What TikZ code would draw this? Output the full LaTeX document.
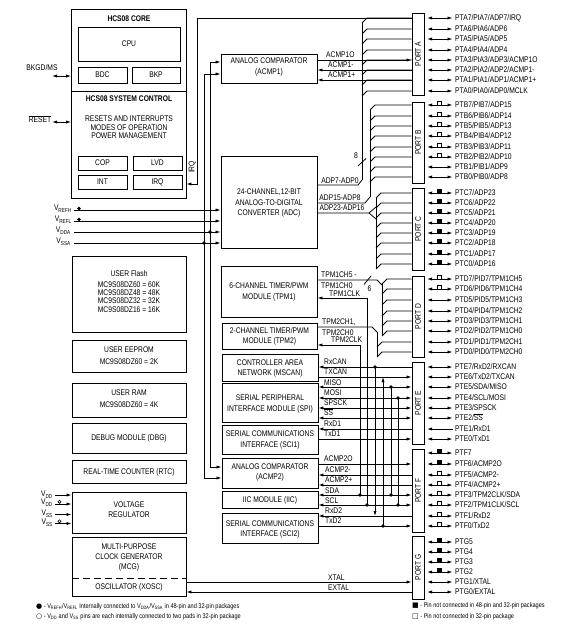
\documentclass[tikz,border=0pt]{standalone}
\usepackage{fontspec}
\setmainfont{Liberation Sans}[FakeStretch=0.82]
\newfontfamily\symf{DejaVu Sans}
\usetikzlibrary{arrows.meta,fit}
\newcommand\fs{\fontsize{8.2}{9}\selectfont}
\newcommand\fnt{\fontsize{6.8}{8}\selectfont}
\newcommand\pinrow[5]{%
  \node[lbl, anchor=west] (#1) at (455,#2) {#3};
  \coordinate (#1a) at (427,#2);
  \coordinate (#1b) at (452.5,#2);
  \draw[#5] (#1a) -- (#1b);
  \ifcase#4\or\draw[line width=0.6pt, fill=white] (437.5,#2-4) rectangle (441.5,#2);\or\fill (437,#2-4.5) rectangle (442,#2);\fi}
\begin{document}
\begin{tikzpicture}[x=1pt,y=-1pt,
  box/.style={draw, line width=0.9pt, inner sep=0pt},
  lbl/.style={font=\fs, inner sep=0pt, text height=5.9pt, text depth=0pt},
  sig/.style={line width=0.8pt},
  sigR/.style={sig,-{Latex[length=5pt,width=3.2pt]}},
  sigL/.style={sig,{Latex[length=5pt,width=3.2pt]}-},
  sigB/.style={sig,{Latex[length=5pt,width=3.2pt]}-{Latex[length=5pt,width=3.2pt]}},
  jdot/.style={circle, fill, inner sep=0pt, minimum size=3.6pt},
]
\fill[white] (0,0) rectangle (572,626);
\useasboundingbox (0,0) rectangle (572,626);

% ---------------- left column ----------------
\node[box, fit={(71.5,9) (186,91)}] (core) {};
\node[box, fit={(71.5,91) (186,198)}] (sysctl) {};
\node[lbl] (tcore) at (129,19) {\bfseries HCS08 CORE};
\node[box, fit={(78,27) (180,61)}] (cpu) {};
\node[lbl] (tcpu) at (cpu) {CPU};
\node[box, fit={(78,67) (127,83)}] (bdc) {};
\node[lbl] (tbdc) at (bdc) {BDC};
\node[box, fit={(132,67) (180,83)}] (bkp) {};
\node[lbl] (tbkp) at (bkp) {BKP};
\node[lbl] (tsys) at (129,99) {\bfseries HCS08 SYSTEM CONTROL};
\node[lbl] (tsys1) at (129,119) {RESETS AND INTERRUPTS};
\node[lbl] (tsys2) at (129,127.5) {MODES OF OPERATION};
\node[lbl] (tsys3) at (129,136) {POWER MANAGEMENT};
\node[box, fit={(78,156) (127,170)}] (cop) {};
\node[lbl] (tcop) at (cop) {COP};
\node[box, fit={(133,156) (182,170)}] (lvd) {};
\node[lbl] (tlvd) at (lvd) {LVD};
\node[box, fit={(78,175) (127,189)}] (int) {};
\node[lbl] (tint) at (int) {INT};
\node[box, fit={(133,175) (182,189)}] (irqb) {};
\node[lbl] (tirqb) at (irqb) {IRQ};

\node[box, fit={(72,256) (186,332)}] (flash) {};
\node[lbl] (tfl0) at (129,274) {USER Flash};
\node[lbl] (tfl1) at (129,284.3) {MC9S08DZ60 = 60K};
\node[lbl] (tfl2) at (129,292.7) {MC9S08DZ48 = 48K};
\node[lbl] (tfl3) at (129,300.9) {MC9S08DZ32 = 32K};
\node[lbl] (tfl4) at (129,309.3) {MC9S08DZ16 = 16K};
\node[box, fit={(72,340) (186,372)}] (eeprom) {};
\node[lbl] (tee0) at (129,350) {USER EEPROM};
\node[lbl] (tee1) at (129,362) {MC9S08DZ60 = 2K};
\node[box, fit={(72,383) (186,417)}] (ram) {};
\node[lbl] (tram0) at (129,393) {USER RAM};
\node[lbl] (tram1) at (129,405) {MC9S08DZ60 = 4K};
\node[box, fit={(72,423) (186,453)}] (dbg) {};
\node[lbl] (tdbg) at (dbg) {DEBUG MODULE (DBG)};
\node[box, fit={(72,460) (186,483)}] (rtc) {};
\node[lbl] (trtc) at (rtc) {REAL-TIME COUNTER (RTC)};
\node[box, fit={(72,492) (186,533)}] (vreg) {};
\node[lbl] (tvr0) at (129,505) {VOLTAGE};
\node[lbl] (tvr1) at (129,515) {REGULATOR};
\node[box, fit={(72,537) (186,596)}] (mcg) {};
\node[lbl] (tmcg0) at (129,547) {MULTI-PURPOSE};
\node[lbl] (tmcg1) at (129,557) {CLOCK GENERATOR};
\node[lbl] (tmcg2) at (129,567) {(MCG)};
\draw[line width=0.9pt, dash pattern=on 7pt off 4pt] (mcg.west |- 0,578) -- (mcg.east |- 0,578);
\node[lbl] (txosc) at (129,587) {OSCILLATOR (XOSC)};

% external pins on the left
\node[lbl] (lbkgd) at (42,68) {BKGD/MS};
\draw[sigB] (52,76) -- (core.west |- 0,76);
\node[lbl] (lreset) at (40,120) {$\overline{\mbox{RESET}}$};
\draw[sigB] (52,122) -- (sysctl.west |- 0,122);

\node[lbl, anchor=east] (lvrefh) at (72,208) {V\textsubscript{REFH}};
\node[lbl, anchor=east] (lvrefl) at (72,219) {V\textsubscript{REFL}};
\node[lbl, anchor=east] (lvdda) at (71,230) {V\textsubscript{DDA}};
\node[lbl, anchor=east] (lvssa) at (71,241) {V\textsubscript{SSA}};

\node[lbl, anchor=east] (lvdd1) at (53,494) {V\textsubscript{DD}};
\node[lbl, anchor=east] (lvdd2) at (53,502) {V\textsubscript{DD}};
\node[lbl, anchor=east] (lvss1) at (53,513) {V\textsubscript{SS}};
\node[lbl, anchor=east] (lvss2) at (53,522) {V\textsubscript{SS}};
\draw[sigR] (55,495) -- (vreg.west |- 0,495);
\draw[sigR] (55,504) -- (vreg.west |- 0,504);
\draw[sigR] (55,514.5) -- (vreg.west |- 0,514.5);
\draw[sigR] (55,523.5) -- (vreg.west |- 0,523.5);
\draw[line width=0.6pt] (59.5,501.8) circle (1.6pt);
\draw[line width=0.6pt] (59.5,521.3) circle (1.6pt);

% ---------------- modules ----------------
\node[box, fit={(221,54) (317,83)}] (acmp1) {};
\node[lbl] (tac1a) at (269,61) {ANALOG COMPARATOR};
\node[lbl] (tac1b) at (269,72) {(ACMP1)};
\node[box, fit={(221,156) (317,248)}] (adc) {};
\node[lbl] (tadc1) at (269,192) {24-CHANNEL,12-BIT};
\node[lbl] (tadc2) at (269,202.5) {ANALOG-TO-DIGITAL};
\node[lbl] (tadc3) at (269,212.5) {CONVERTER (ADC)};
\node[box, fit={(221,266) (317,317)}] (tpm1) {};
\node[lbl] (ttpm1a) at (269,286) {6-CHANNEL TIMER/PWM};
\node[lbl] (ttpm1b) at (269,296.5) {MODULE (TPM1)};
\node[box, fit={(222,323) (317,349)}] (tpm2) {};
\node[lbl] (ttpm2a) at (269.5,330.5) {2-CHANNEL TIMER/PWM};
\node[lbl] (ttpm2b) at (269.5,341) {MODULE (TPM2)};
\node[box, fit={(222,354) (318,381)}] (can) {};
\node[lbl] (tcana) at (270,363) {CONTROLLER AREA};
\node[lbl] (tcanb) at (270,373) {NETWORK (MSCAN)};
\node[box, fit={(222,383) (318,422)}] (spi) {};
\node[lbl] (tspia) at (270,398) {SERIAL PERIPHERAL};
\node[lbl] (tspib) at (270,408.5) {INTERFACE MODULE (SPI)};
\node[box, fit={(222,425) (318,454)}] (sci1) {};
\node[lbl] (tsci1a) at (270,434) {SERIAL COMMUNICATIONS};
\node[lbl] (tsci1b) at (270,444.5) {INTERFACE (SCI1)};
\node[box, fit={(222,458) (318,488)}] (acmp2) {};
\node[lbl] (tac2a) at (270,467) {ANALOG COMPARATOR};
\node[lbl] (tac2b) at (270,477) {(ACMP2)};
\node[box, fit={(222,491) (318,508)}] (iic) {};
\node[lbl] (tiic) at (iic) {IIC MODULE (IIC)};
\node[box, fit={(222,513) (318,543)}] (sci2) {};
\node[lbl] (tsci2a) at (270,524) {SERIAL COMMUNICATIONS};
\node[lbl] (tsci2b) at (270,534) {INTERFACE (SCI2)};

% ---------------- ports ----------------
\node[box, fit={(412,13) (424,95)}] (portA) {};
\node[box, fit={(412,102) (424,183)}] (portB) {};
\node[box, fit={(412,188) (424,270)}] (portC) {};
\node[box, fit={(412,276) (424,357)}] (portD) {};
\node[box, fit={(412,362) (424,444)}] (portE) {};
\node[box, fit={(412,449) (424,532)}] (portF) {};
\node[box, fit={(412,536) (424,599)}] (portG) {};
\node[lbl, rotate=90] (tpA) at (portA) {PORT A};
\node[lbl, rotate=90] (tpB) at (portB) {PORT B};
\node[lbl, rotate=90] (tpC) at (portC) {PORT C};
\node[lbl, rotate=90] (tpD) at (portD) {PORT D};
\node[lbl, rotate=90] (tpE) at (portE) {PORT E};
\node[lbl, rotate=90] (tpF) at (portF) {PORT F};
\node[lbl, rotate=90] (tpG) at (portG) {PORT G};

% pins
\pinrow{pA7}{18}{PTA7/PIA7/ADP7/IRQ}{0}{sigB}
\pinrow{pA6}{29}{PTA6/PIA6/ADP6}{0}{sigB}
\pinrow{pA5}{39}{PTA5/PIA5/ADP5}{0}{sigB}
\pinrow{pA4}{50}{PTA4/PIA4/ADP4}{0}{sigB}
\pinrow{pA3}{60}{PTA3/PIA3/ADP3/ACMP1O}{0}{sigB}
\pinrow{pA2}{70}{PTA2/PIA2/ADP2/ACMP1-}{0}{sigB}
\pinrow{pA1}{80}{PTA1/PIA1/ADP1/ACMP1+}{0}{sigB}
\pinrow{pA0}{91}{PTA0/PIA0/ADP0/MCLK}{0}{sigB}
\pinrow{pB7}{105}{PTB7/PIB7/ADP15}{1}{sigB}
\pinrow{pB6}{116}{PTB6/PIB6/ADP14}{1}{sigB}
\pinrow{pB5}{126}{PTB5/PIB5/ADP13}{1}{sigB}
\pinrow{pB4}{136}{PTB4/PIB4/ADP12}{1}{sigB}
\pinrow{pB3}{147}{PTB3/PIB3/ADP11}{1}{sigB}
\pinrow{pB2}{157}{PTB2/PIB2/ADP10}{1}{sigB}
\pinrow{pB1}{167}{PTB1/PIB1/ADP9}{0}{sigB}
\pinrow{pB0}{177}{PTB0/PIB0/ADP8}{0}{sigB}
\pinrow{pC7}{193}{PTC7/ADP23}{2}{sigB}
\pinrow{pC6}{203}{PTC6/ADP22}{2}{sigB}
\pinrow{pC5}{213}{PTC5/ADP21}{2}{sigB}
\pinrow{pC4}{223}{PTC4/ADP20}{2}{sigB}
\pinrow{pC3}{233}{PTC3/ADP19}{2}{sigB}
\pinrow{pC2}{243}{PTC2/ADP18}{2}{sigB}
\pinrow{pC1}{254}{PTC1/ADP17}{2}{sigB}
\pinrow{pC0}{264}{PTC0/ADP16}{2}{sigB}
\pinrow{pD7}{279}{PTD7/PID7/TPM1CH5}{1}{sigB}
\pinrow{pD6}{289}{PTD6/PID6/TPM1CH4}{1}{sigB}
\pinrow{pD5}{300}{PTD5/PID5/TPM1CH3}{0}{sigB}
\pinrow{pD4}{311}{PTD4/PID4/TPM1CH2}{0}{sigB}
\pinrow{pD3}{321}{PTD3/PID3/TPM1CH1}{0}{sigB}
\pinrow{pD2}{331}{PTD2/PID2/TPM1CH0}{0}{sigB}
\pinrow{pD1}{342}{PTD1/PID1/TPM2CH1}{0}{sigB}
\pinrow{pD0}{352}{PTD0/PID0/TPM2CH0}{0}{sigB}
\pinrow{pE7}{367}{PTE7/RxD2/RXCAN}{0}{sigB}
\pinrow{pE6}{377}{PTE6/TxD2/TXCAN}{0}{sigB}
\pinrow{pE5}{387}{PTE5/SDA/MISO}{0}{sigB}
\pinrow{pE4}{398}{PTE4/SCL/MOSI}{0}{sigB}
\pinrow{pE3}{408}{PTE3/SPSCK}{0}{sigB}
\pinrow{pE2}{418}{PTE2/$\overline{\mbox{SS}}$}{0}{sigB}
\pinrow{pE1}{429}{PTE1/RxD1}{0}{sigL}
\pinrow{pE0}{439}{PTE0/TxD1}{0}{sigB}
\pinrow{pF7}{453}{PTF7}{2}{sigB}
\pinrow{pF6}{464}{PTF6/ACMP2O}{2}{sigB}
\pinrow{pF5}{475}{PTF5/ACMP2-}{1}{sigB}
\pinrow{pF4}{485}{PTF4/ACMP2+}{1}{sigB}
\pinrow{pF3}{495}{PTF3/TPM2CLK/SDA}{1}{sigB}
\pinrow{pF2}{505}{PTF2/TPM1CLK/SCL}{1}{sigB}
\pinrow{pF1}{516}{PTF1/RxD2}{1}{sigB}
\pinrow{pF0}{526}{PTF0/TxD2}{1}{sigB}
\pinrow{pG5}{542}{PTG5}{2}{sigB}
\pinrow{pG4}{552}{PTG4}{2}{sigB}
\pinrow{pG3}{562}{PTG3}{2}{sigB}
\pinrow{pG2}{572}{PTG2}{2}{sigB}
\pinrow{pG1}{582}{PTG1/XTAL}{0}{sigB}
\pinrow{pG0}{592}{PTG0/EXTAL}{0}{sigB}

% ---------------- IRQ and clock lines ----------------
\coordinate (irqT) at (197,18);
\coordinate (irqB) at (197,184);
\draw[sig] (irqT) -- (portA.west |- irqT);
\draw[sigR] (irqT) -- (irqB) -- (sysctl.east |- irqB);
\node[lbl, rotate=90] (tirq) at (191.5,167) {IRQ};

\coordinate (v210t) at (210,62);
\coordinate (v210b) at (210,467);
\draw[sigB] (acmp1.west |- v210t) -- (v210t) -- (v210b) -- (acmp2.west |- v210b);
\coordinate (v204t) at (204,74);
\coordinate (v204b) at (204,478);
\draw[sigB] (acmp1.west |- v204t) -- (v204t) -- (v204b) -- (acmp2.west |- v204b);

% analog references
\draw[sigR] (74,210) -- (adc.west |- 0,210);
\draw[sigR] (74,221) -- (adc.west |- 0,221);
\draw[sigR] (74,232) -- (adc.west |- 0,232);
\draw[sigR] (74,243) -- (adc.west |- 0,243);
\node[jdot] (dvrefh) at (79,208.5) {};
\node[jdot] (dvrefl) at (79,219.5) {};
\node[jdot] (dvdda) at (210,232) {};
\node[jdot] (dvssa) at (204,243) {};

% ACMP1 signals
\draw[sigR] (acmp1.east |- 0,60) -- (portA.west |- 0,60);
\draw[sigL] (acmp1.east |- 0,70) -- (portA.west |- 0,70);
\draw[sigL] (acmp1.east |- 0,80) -- (portA.west |- 0,80);
\node[lbl, anchor=west] (lac1o) at (326,54.5) {ACMP1O};
\node[lbl, anchor=west] (lac1m) at (328,65) {ACMP1-};
\node[lbl, anchor=west] (lac1p) at (328,75) {ACMP1+};

% port A bus
\draw[sig] (362,23) -- (362,180);
\foreach \yy in {18,29,39,50,60,70,80,91}
  \draw[sig] (362,\yy+5) -- (367,\yy) -- (portA.west |- 0,\yy);
\draw[sig] (358,166) -- (366,158.5);
\node[lbl] (l8) at (356,156) {8};
\draw[sig] (adc.east |- 0,185) -- (358,185) -- (362,180);
\node[lbl] (ladp7) at (340,180.5) {ADP7-ADP0};

% port B bus
\draw[sig] (370,110) -- (370,197);
\foreach \yy in {105,116,126,136,147,157,167,177}
  \draw[sig] (370,\yy+5) -- (375,\yy) -- (portB.west |- 0,\yy);
\draw[sig] (adc.east |- 0,203) -- (365,203) -- (370,197);
\node[lbl] (ladp15) at (340,197.5) {ADP15-ADP8};

% port C bus
\draw[sig] (376,198) -- (376,269);
\foreach \yy in {193,203,213,223,233,243,254,264}
  \draw[sig] (376,\yy+5) -- (381,\yy) -- (portC.west |- 0,\yy);
\draw[sig] (adc.east |- 0,213) -- (369,213) -- (376,207);
\draw[sig] (369,213) -- (376,219);
\node[lbl] (ladp23) at (342,208) {ADP23-ADP16};

% port D bus (TPM1)
\draw[sig] (382,284) -- (382,336);
\foreach \yy in {279,289,300,311,321,331}
  \draw[sig] (382,\yy+5) -- (387,\yy) -- (portD.west |- 0,\yy);
\draw[sig] (tpm1.east |- 0,280) -- (377,280) -- (382,285);
\draw[sig] (364,284.5) -- (371,276);
\node[lbl] (l6) at (369.5,289) {6};
\node[lbl, anchor=west] (ltpm1a) at (321,275) {TPM1CH5 -};
\node[lbl, anchor=west] (ltpm1b) at (321,286) {TPM1CH0};
% TPM2 bus
\draw[sig] (377,332) -- (377,357);
\foreach \yy in {342,352}
  \draw[sig] (377,\yy+5) -- (382,\yy) -- (portD.west |- 0,\yy);
\draw[sig] (tpm2.east |- 0,327) -- (372,327) -- (377,332);
\node[lbl, anchor=west] (ltpm2a) at (322,322) {TPM2CH1,};
\node[lbl, anchor=west] (ltpm2b) at (322,333) {TPM2CH0};

% clocks to TPMs
\draw[sigR] (360,495) -- (360,345) -- (tpm2.east |- 0,345);
\node[lbl, anchor=west] (ltpm2clk) at (331,340) {TPM2CLK};
\draw[sigR] (367,505) -- (367,298) -- (tpm1.east |- 0,298);
\node[lbl, anchor=west] (ltpm1clk) at (329,293.5) {TPM1CLK};

% port E / F signals
\draw[sigL] (can.east |- 0,367) -- (portE.west |- 0,367);
\draw[sigR] (can.east |- 0,377) -- (portE.west |- 0,377);
\draw[sigB] (spi.east |- 0,387) -- (portE.west |- 0,387);
\draw[sigB] (spi.east |- 0,398) -- (portE.west |- 0,398);
\draw[sigB] (spi.east |- 0,408) -- (portE.west |- 0,408);
\draw[sigB] (spi.east |- 0,418) -- (portE.west |- 0,418);
\draw[sigL] (sci1.east |- 0,429) -- (portE.west |- 0,429);
\draw[sigR] (sci1.east |- 0,439) -- (portE.west |- 0,439);
\draw[sigR] (acmp2.east |- 0,464) -- (portF.west |- 0,464);
\draw[sigL] (acmp2.east |- 0,475) -- (portF.west |- 0,475);
\draw[sigL] (acmp2.east |- 0,485) -- (portF.west |- 0,485);
\draw[sigB] (iic.east |- 0,495) -- (portF.west |- 0,495);
\draw[sigB] (iic.east |- 0,505) -- (portF.west |- 0,505);
\draw[sigL] (sci2.east |- 0,516) -- (portF.west |- 0,516);
\draw[sigR] (sci2.east |- 0,526) -- (portF.west |- 0,526);
\node[lbl, anchor=west] (lrxcan) at (324,362) {RxCAN};
\node[lbl, anchor=west] (ltxcan) at (324,372) {TXCAN};
\node[lbl, anchor=west] (lmiso) at (324,382.5) {MISO};
\node[lbl, anchor=west] (lmosi) at (324,393) {MOSI};
\node[lbl, anchor=west] (lspsck) at (324,403) {SPSCK};
\node[lbl, anchor=west] (lss) at (324,413) {$\overline{\mbox{SS}}$};
\node[lbl, anchor=west] (lrxd1) at (324,424) {RxD1};
\node[lbl, anchor=west] (ltxd1) at (324,434) {TxD1};
\node[lbl, anchor=west] (lac2o) at (324,458.5) {ACMP2O};
\node[lbl, anchor=west] (lac2m) at (325,469.5) {ACMP2-};
\node[lbl, anchor=west] (lac2p) at (325,480) {ACMP2+};
\node[lbl, anchor=west] (lsda) at (325,490.5) {SDA};
\node[lbl, anchor=west] (lscl) at (325,500.5) {SCL};
\node[lbl, anchor=west] (lrxd2) at (325,511) {RxD2};
\node[lbl, anchor=west] (ltxd2) at (325,521) {TxD2};

% cross connections
\draw[sigR] (375,367) -- (375,516);
\draw[sigR] (383,526) -- (383,377);
\draw[sig] (391,387) -- (391,495);
\draw[sig] (398,398) -- (398,505);
\node[jdot] (j1) at (360,495) {};
\node[jdot] (j2) at (367,505) {};
\node[jdot] (j3) at (375,367) {};
\node[jdot] (j4) at (383,526) {};
\node[jdot] (j5) at (391,387) {};
\node[jdot] (j6) at (391,495) {};
\node[jdot] (j7) at (398,398) {};
\node[jdot] (j8) at (398,505) {};

% oscillator
\draw[sigR] (mcg.east |- 0,582) -- (portG.west |- 0,582);
\draw[sigL] (mcg.east |- 0,592) -- (portG.west |- 0,592);
\node[lbl, anchor=west] (lxtal) at (328,577.5) {XTAL};
\node[lbl, anchor=west] (lextal) at (328,587.5) {EXTAL};

% footnotes
\node[font=\fnt, inner sep=0pt, anchor=west] (fn1) at (36,607) {{\symf\scriptsize ●} - V\textsubscript{REFH}/V\textsubscript{REFL} Internally connected to V\textsubscript{DDA}/V\textsubscript{SSA} in 48-pin and 32-pin packages};
\node[font=\fnt, inner sep=0pt, anchor=west] (fn2) at (36,617) {{\symf\scriptsize ○} - V\textsubscript{DD} and V\textsubscript{SS} pins are each internally connected to two pads in 32-pin package};
\node[font=\fnt, inner sep=0pt, anchor=west] (fn3) at (412,606) {{\symf\scriptsize ■} - Pin not connected in 48-pin and 32-pin packages};
\node[font=\fnt, inner sep=0pt, anchor=west] (fn4) at (412,617) {{\symf\scriptsize □} - Pin not connected in 32-pin package};
\end{tikzpicture}
\end{document}
